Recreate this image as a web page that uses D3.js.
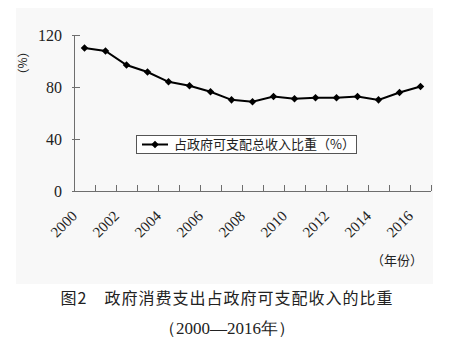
<!DOCTYPE html>
<html><head><meta charset="utf-8">
<script src="https://cdn.jsdelivr.net/npm/d3@7"></script>
<style>body{margin:0;background:#fff}svg{display:block}.sf{font-family:"Liberation Serif","Times New Roman",serif}</style>
</head><body>
<svg id="c" width="460" height="356"></svg>
<script>
const years = ["2000","2001","2002","2003","2004","2005","2006","2007","2008","2009","2010","2011","2012","2013","2014","2015","2016"];
const ratio = [110.0,107.7,96.9,91.5,84.0,80.9,76.3,70.1,68.6,72.7,70.9,71.7,71.7,72.7,70.1,75.8,80.4];
const yTicks = [0,40,80,120];
const xTickLabels = ["2000","2002","2004","2006","2008","2010","2012","2014","2016"];
const legendLabel = "占政府可支配总收入比重（%）";
const yUnit = "（%）";
const xUnit = "（年份）";
const caption1 = "图2　政府消费支出占政府可支配收入的比重";
const caption2 = "（2000—2016年）";

const svg = d3.select("#c");
const cjk = "'Noto Sans CJK SC','Noto Sans CJK JP',sans-serif";

svg.append("rect").attr("x",16).attr("y",8).attr("width",417).attr("height",276).attr("fill","#f8f8f8");

const x = d3.scaleBand().domain(years).range([74,431]).padding(0);
const y = d3.scaleLinear().domain([0,120]).range([191,35]);
const cx = d => x(d) + x.bandwidth()/2;
const axisColor = "#6e6e6e";

// y axis
svg.append("line").attr("x1",74.5).attr("x2",74.5).attr("y1",y(120)).attr("y2",y(0)).attr("stroke",axisColor);
svg.selectAll(".yt").data(yTicks).enter().append("line")
  .attr("x1",72).attr("x2",80).attr("y1",d=>Math.round(y(d))+0.5).attr("y2",d=>Math.round(y(d))+0.5).attr("stroke",axisColor);
svg.selectAll(".yl").data(yTicks).enter().append("text").attr("class","sf")
  .attr("x",62).attr("y",d=>y(d)).attr("dy","0.35em").attr("text-anchor","end")
  .attr("font-size",16).attr("fill","#222").text(d=>d);

// x axis
svg.append("line").attr("x1",74).attr("x2",431).attr("y1",191.5).attr("y2",191.5).attr("stroke",axisColor);
svg.selectAll(".xt").data(years).enter().append("line")
  .attr("x1",d=>Math.round(x(d)+x.bandwidth())+0.5).attr("x2",d=>Math.round(x(d)+x.bandwidth())+0.5)
  .attr("y1",185).attr("y2",191).attr("stroke",axisColor);
svg.selectAll(".xl").data(xTickLabels).enter().append("text").attr("class","sf")
  .attr("transform",d=>`translate(${cx(d)-6.5},${217}) rotate(-45)`)
  .attr("text-anchor","end").attr("font-size",15).attr("fill","#222").text(d=>d);

// line
svg.append("path").datum(ratio)
  .attr("d", d3.line().x((d,i)=>cx(years[i])).y(d=>y(d)))
  .attr("fill","none").attr("stroke","#000").attr("stroke-width",2);
const diamond = d3.symbol().type(d3.symbolDiamond2).size(36);
svg.selectAll(".pt").data(ratio).enter().append("path")
  .attr("d",diamond).attr("transform",(d,i)=>`translate(${cx(years[i])},${y(d)})`)
  .attr("fill","#000");

// legend
svg.append("rect").attr("x",136.5).attr("y",135.5).attr("width",220).attr("height",18).attr("fill","#fff").attr("stroke","#555");
svg.append("line").attr("x1",142).attr("x2",168).attr("y1",144.5).attr("y2",144.5).attr("stroke","#000").attr("stroke-width",2);
svg.append("path").attr("d",diamond).attr("transform","translate(155,144.5)").attr("fill","#000");
svg.append("text").attr("x",174).attr("y",144.5).attr("dy","0.36em").attr("font-family",cjk).attr("font-size",13)
  .attr("fill","#222").text(legendLabel);

// y unit
svg.append("text").attr("transform","translate(22,63) rotate(90)").attr("text-anchor","middle").attr("dy","0.35em")
  .attr("font-family",cjk).attr("font-size",12).attr("fill","#222").text(yUnit);

// x unit
svg.append("text").attr("x",397).attr("y",265).attr("text-anchor","middle").attr("font-family",cjk).attr("font-size",13)
  .attr("fill","#222").text(xUnit);

// caption
svg.append("text").attr("x",227).attr("y",304).attr("text-anchor","middle").attr("font-family",cjk).attr("font-size",16)
  .attr("letter-spacing",1).attr("fill","#222").text(caption1);
svg.append("text").attr("class","sf").attr("x",227).attr("y",334).attr("text-anchor","middle").attr("font-size",17)
  .attr("fill","#222").text(caption2);
</script>
</body></html>
